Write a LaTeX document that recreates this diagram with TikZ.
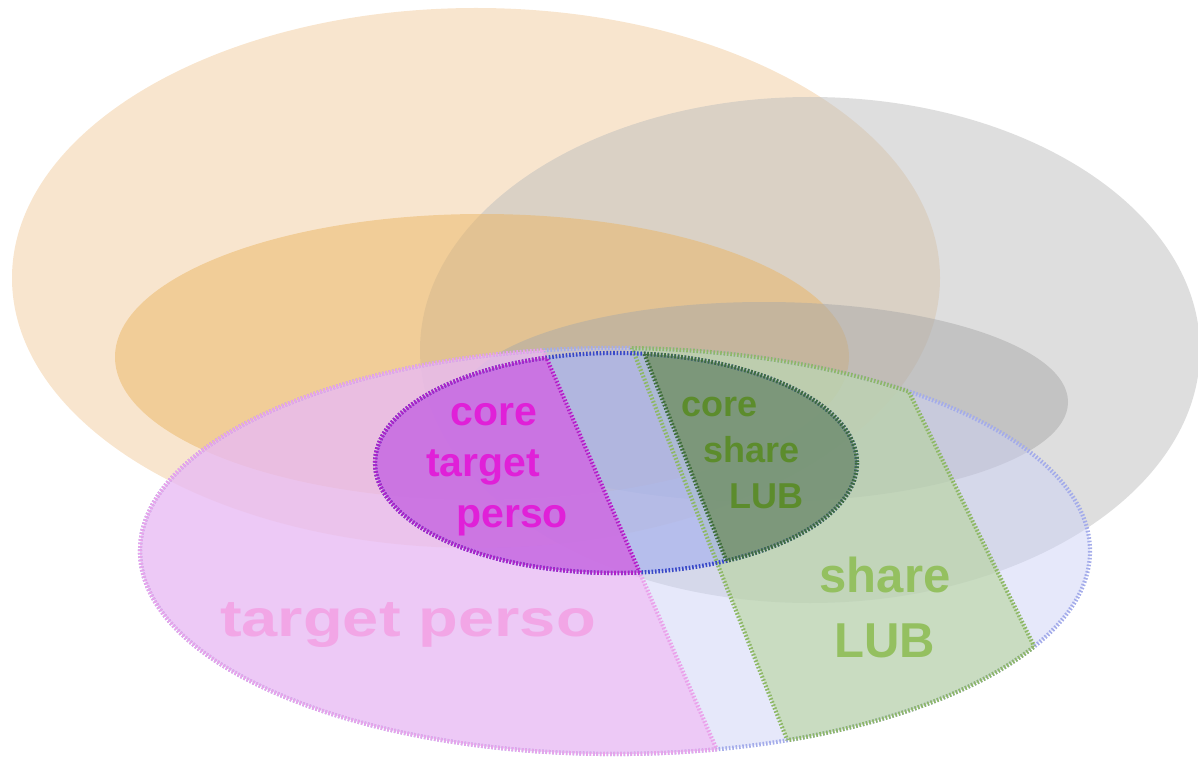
\documentclass[tikz,border=0pt]{standalone}
\usepackage{fontspec}
\setmainfont{Liberation Sans}
\usetikzlibrary{calc}
\definecolor{peach}{HTML}{F2CC9E}
\definecolor{peachin}{HTML}{EAB562}
\definecolor{greyout}{HTML}{BDBDBD}
\definecolor{greyin}{HTML}{A8A8A8}
\definecolor{lavender}{HTML}{CDD2F6}
\definecolor{pinkset}{HTML}{F2B4F4}
\definecolor{greenset}{HTML}{B6D49C}
\definecolor{coreblue}{HTML}{A2AEEE}
\definecolor{coremag}{HTML}{D060E0}
\definecolor{coregreen}{HTML}{6C8C5C}
\definecolor{rimblue}{HTML}{A4ACEA}
\definecolor{rimpink}{HTML}{EAA2EA}
\definecolor{rimgreen}{HTML}{8EB866}
\definecolor{rimcore}{HTML}{3848C8}
\definecolor{rimmag}{HTML}{B020C8}
\definecolor{rimdark}{HTML}{3E6E3A}
\definecolor{txtmag}{HTML}{E020D8}
\definecolor{txtdark}{HTML}{5C8C2C}
\definecolor{txtlight}{HTML}{94C060}
\definecolor{txtpink}{HTML}{F2A6E6}
\begin{document}
\begin{tikzpicture}[x=1pt,y=-1pt,
    region/.style={fill opacity=0.5},
    rim/.style={line width=4.2pt,dash pattern=on 1.6pt off 1.8pt},
    lbl/.style={align=center,inner sep=0pt}]
    \useasboundingbox (0,0) rectangle (1198,759);
    \coordinate (tTop) at (543,350);
    \coordinate (tBot) at (720,757);
    \coordinate (sTop) at (630,343);
    \coordinate (sBot) at (788,742);
    \coordinate (rTop) at (908,390);
    \coordinate (rBot) at (1034,646);
    % background sets
    \fill[peach,region] (476,278) ellipse [x radius=464,y radius=270];
    \fill[greyout,region] (810,350) ellipse [x radius=390,y radius=253];
    \fill[peachin,region] (482,357) ellipse [x radius=367,y radius=143];
    \fill[greyin,region] (764,402) ellipse [x radius=304,y radius=100];
    % base set and its parts
    \fill[lavender,region] (615,551) ellipse [x radius=475,y radius=203];
    \begin{scope}
        \clip (615,551) ellipse [x radius=475,y radius=203];
        \fill[pinkset,fill opacity=0.6] (0,0) -- (391,0) -- (721,759) -- (0,759) -- cycle;
        \fill[greenset,fill opacity=0.6] (494,0) -- (716,0) -- (1090,759) -- (795,759) -- cycle;
    \end{scope}
    \fill[coreblue,fill opacity=0.6] (616,463) ellipse [x radius=241,y radius=110];
    \begin{scope}
        \clip (616,463) ellipse [x radius=241,y radius=110];
        \fill[coremag,fill opacity=0.75] (0,0) -- (391,0) -- (721,759) -- (0,759) -- cycle;
        \fill[coregreen,fill opacity=0.75] (504,0) -- (716,0) -- (1090,759) -- (805,759) -- cycle;
    \end{scope}
    % rims
    \draw[rim,rimblue] (615,551) ellipse [x radius=475,y radius=203];
    \begin{scope}
        \clip (0,0) -- (391,0) -- (721,759) -- (0,759) -- cycle;
        \draw[rim,rimpink] (615,551) ellipse [x radius=475,y radius=203];
    \end{scope}
    \begin{scope}
        \clip (494,0) -- (716,0) -- (1090,759) -- (795,759) -- cycle;
        \draw[rim,rimgreen] (615,551) ellipse [x radius=475,y radius=203];
    \end{scope}
    \begin{scope}
        \clip (615,551) ellipse [x radius=475,y radius=203];
        \draw[rim,rimpink] (tTop) -- (tBot);
        \draw[rim,rimgreen] ($(sTop)!-0.1!(sBot)$) -- ($(sBot)!-0.1!(sTop)$);
        \draw[rim,rimgreen] ($(rTop)!-0.3!(rBot)$) -- ($(rBot)!-0.1!(rTop)$);
    \end{scope}
    \draw[rim,rimcore] (616,463) ellipse [x radius=241,y radius=110];
    \begin{scope}
        \clip (0,0) -- (391,0) -- (721,759) -- (0,759) -- cycle;
        \draw[rim,rimmag] (616,463) ellipse [x radius=241,y radius=110];
    \end{scope}
    \begin{scope}
        \clip (504,0) -- (716,0) -- (1090,759) -- (805,759) -- cycle;
        \draw[rim,rimdark] (616,463) ellipse [x radius=241,y radius=110];
    \end{scope}
    \begin{scope}
        \clip (616,463) ellipse [x radius=241,y radius=110];
        \draw[rim,rimmag] (tTop) -- (tBot);
        \draw[rim,rimdark] (504,0) -- (805,759);
    \end{scope}
    % labels
    \node[lbl,align=left,anchor=west,text=txtmag,font=\bfseries\fontsize{41}{51}\selectfont] (coreTarget) at (426,470) {\hspace*{24pt}core\\target\\\hspace*{30pt}perso};
    \node[lbl,align=left,anchor=west,text=txtdark,font=\bfseries\fontsize{36}{46}\selectfont] (coreShare) at (681,453) {core\\\hspace*{22pt}share\\\hspace*{48pt}LUB};
    \node[lbl,text=txtlight,font=\bfseries\fontsize{49}{65}\selectfont] (share) at (885,607) {share\\LUB};
    \node[lbl,text=txtpink,font=\bfseries\fontsize{52}{60}\selectfont] (target) at (408,625) {\scalebox{1.25}[1]{target perso}};
\end{tikzpicture}
\end{document}
